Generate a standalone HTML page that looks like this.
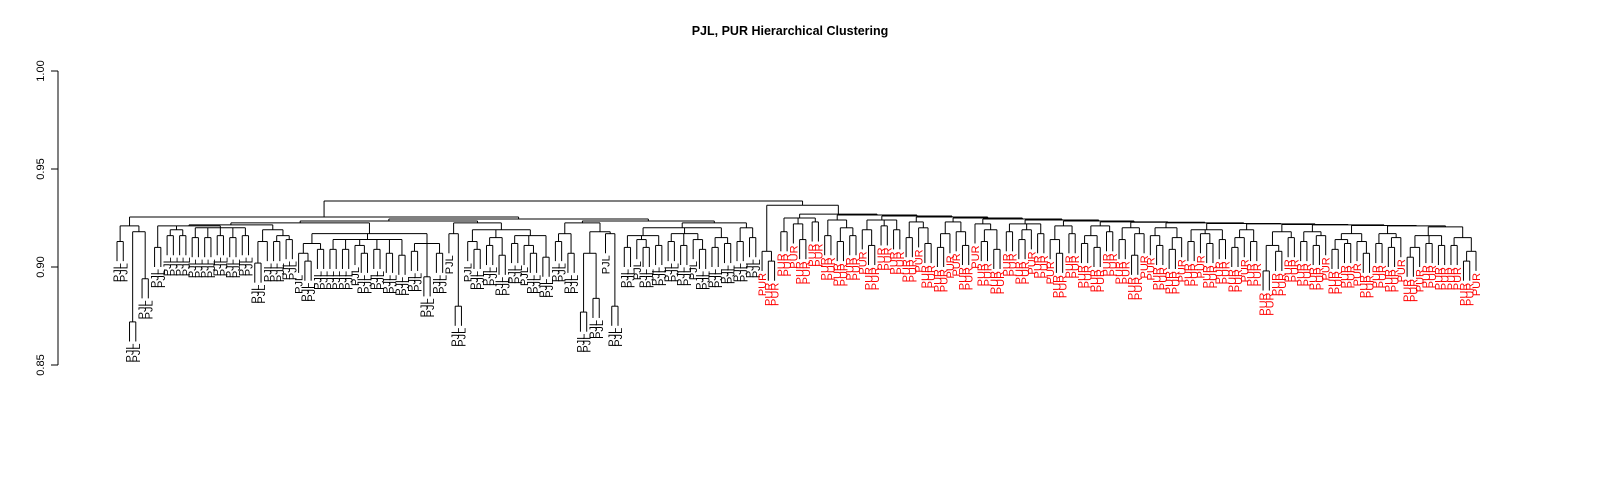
<!DOCTYPE html>
<html><head><meta charset="utf-8"><style>
body{margin:0;background:#fff}
svg{display:block;font-family:"Liberation Sans",sans-serif}
</style></head><body>
<svg id="chart" width="1600" height="480" xmlns="http://www.w3.org/2000/svg">
<text x="790" y="35" text-anchor="middle" font-size="12.5" font-weight="bold">PJL, PUR Hierarchical Clustering</text>
<g id="axis"></g>
<g id="tree"></g>
</svg>
<script>
const yTicks = [0.85, 0.90, 0.95, 1.00];
const yTickLabels = ["0.85", "0.90", "0.95", "1.00"];
const hang = 0.010;
const pjlFirst = [0.921,[0.913,'J','J'],[0.918,[0.872,'J','J'],[0.894,'J','J']]];
const pjlGroups = [
 [0.921,[0.910,'J','J'],[0.919,[0.916,'J','J'],[0.916,'J','J']],[0.920,[0.915,'J','J'],[0.915,'J','J'],[0.916,'J','J'],[0.915,'J','J'],[0.916,'J','J']]],
 [0.919,[0.913,[0.902,'J','J'],'J'],[0.916,[0.913,'J','J'],[0.914,'J','J']]],
 [0.917,[0.912,[0.907,'J',[0.903,'J','J']],[0.909,'J','J']],[0.914,[0.909,'J','J'],[0.909,'J','J'],[0.911,'J',[0.907,'J','J']],[0.909,'J','J'],[0.907,'J','J'],[0.906,'J','J']],[0.912,[0.908,'J','J'],[0.895,'J','J'],[0.907,'J','J']]],
 [0.917,'J',[0.880,'J','J']],
 [0.919,[0.913,'J',[0.909,'J','J']],[0.915,[0.911,'J','J'],[0.906,'J','J']],[0.916,[0.912,'J','J'],[0.911,'J',[0.907,'J','J']],[0.905,'J','J']]],
 [0.917,[0.913,'J','J'],[0.907,'J','J']],
 [0.918,[0.907,[0.877,'J','J'],[0.884,'J','J']],[0.917,'J',[0.880,'J','J']]],
 [0.920,[0.916,[0.910,'J','J'],[0.914,'J',[0.910,'J','J']],[0.911,'J','J']],[0.917,[0.913,'J','J'],[0.911,'J','J'],[0.914,'J',[0.909,'J','J']]],[0.915,[0.910,'J','J'],[0.912,'J','J']]],
 [0.920,[0.913,'J','J'],[0.915,'J','J']]
];
const pjlTop = 0.9255;
const pjlLevels = [0.9245,0.9235,0.9225,0.9215];
const purSmall = [0.908,'R',[0.903,'R','R']];
const purGroups = [
 [0.925,[0.918,'R','R'],[0.922,'R',[0.914,'R','R']],[0.923,'R','R']],
 [0.924,[0.916,'R','R'],[0.920,[0.913,'R','R'],[0.916,'R','R']]],
 [0.924,[0.919,'R',[0.911,'R','R']],[0.921,'R','R'],[0.919,'R','R']],
 [0.923,[0.915,'R','R'],[0.920,'R',[0.912,'R','R']]],
 [0.923,[0.917,[0.910,'R','R'],'R'],[0.918,'R',[0.911,'R','R']]],
 [0.922,'R',[0.919,[0.913,'R','R'],[0.909,'R','R']]],
 [0.922,[0.918,'R','R'],[0.919,[0.914,'R','R'],'R'],[0.917,'R','R']],
 [0.921,[0.914,'R',[0.907,'R','R']],[0.917,'R','R']],
 [0.921,[0.916,[0.912,'R','R'],[0.910,'R','R']],[0.918,'R','R']],
 [0.920,[0.914,'R','R'],[0.917,[0.906,'R','R'],'R']],
 [0.920,[0.916,'R',[0.911,'R','R']],[0.915,[0.909,'R','R'],'R']],
 [0.919,[0.913,'R','R'],[0.917,'R',[0.912,'R','R']],[0.914,'R','R']],
 [0.919,[0.915,[0.910,'R','R'],'R'],[0.913,'R','R']],
 [0.918,[0.911,[0.898,'R','R'],[0.908,'R','R']],[0.915,'R','R']],
 [0.918,[0.913,'R','R'],[0.916,[0.911,'R','R'],'R']],
 [0.917,[0.914,[0.909,'R','R'],[0.912,'R','R']],[0.913,'R',[0.907,'R','R']]],
 [0.917,[0.912,'R','R'],[0.915,[0.910,'R','R'],'R']],
 [0.916,[0.910,[0.905,'R','R'],'R'],[0.912,'R','R'],[0.911,'R','R']],
 [0.915,[0.911,'R','R'],[0.908,[0.903,'R','R'],'R']]
];
const purChain = [0.927,0.9265,0.926,0.9255,0.925,0.9245,0.924,0.9235,0.923,0.9228,0.9225,0.9222,0.922,0.9217,0.9215,0.9212,0.921,0.9205];
const purJoin = 0.9315;
const rootHeight = 0.9337;
const labelText = {J:'PJL', R:'PUR'};
const labelColor = {J:'#000', R:'#ff0000'};

const NS = 'http://www.w3.org/2000/svg';
const yScale = v => 71 + (1 - v) * 1960;
function chain(groups, heights){
  let node = groups[groups.length-1];
  for(let i=groups.length-2;i>=0;i--) node=[heights[i],groups[i],node];
  return node;
}
function balanced(groups, levels, d){
  if(groups.length===1) return groups[0];
  const m=Math.ceil(groups.length/2);
  return [levels[Math.min(d,levels.length-1)], balanced(groups.slice(0,m),levels,d+1), balanced(groups.slice(m),levels,d+1)];
}
const left = [pjlTop, pjlFirst, balanced(pjlGroups, pjlLevels, 0)];
const right = [purJoin, purSmall, chain(purGroups, purChain)];
const root = [rootHeight, left, right];

function countLeaves(n){ return typeof n==='string'?1:n.slice(1).reduce((a,c)=>a+countLeaves(c),0); }
const nLeaves = countLeaves(root);
const x0=117, x1=1476;
const xScale = i => x0 + i*(x1-x0)/(nLeaves-1);
const tree = document.getElementById('tree');
let leafIdx = 0;
function line(xa,ya,xb,yb,name){
  const l=document.createElementNS(NS,'line');
  l.setAttribute('x1',xa);l.setAttribute('y1',ya);l.setAttribute('x2',xb);l.setAttribute('y2',yb);
  l.setAttribute('stroke','#000');l.setAttribute('stroke-width','1');
  
  
  tree.appendChild(l);
}
function layout(n){
  if(typeof n==='string'){ const x=xScale(leafIdx++); return {x, h:null, lab:n}; }
  const h=n[0];
  const kids=n.slice(1).map(layout);
  kids.forEach(k=>{
    if(k.h===null){
      const yb=yScale(h-hang);
      line(k.x,yScale(h),k.x,yb,'leaf-branch');
      const t=document.createElementNS(NS,'text');
      t.setAttribute('transform',`translate(${k.x+4},${yb+2}) rotate(-90)`);
      t.setAttribute('text-anchor','end');
      t.setAttribute('font-size','11');
      t.setAttribute('fill',labelColor[k.lab]);
      t.textContent=labelText[k.lab];
      
      
      tree.appendChild(t);
    } else {
      line(k.x,yScale(k.h),k.x,yScale(h),'branch');
    }
  });
  const xa=kids[0].x, xb=kids[kids.length-1].x;
  line(xa,yScale(h),xb,yScale(h),'merge-line');
  return {x:(xa+xb)/2, h};
}
layout(root);

const axis=document.getElementById('axis');
const al=document.createElementNS(NS,'line');
al.setAttribute('x1',58);al.setAttribute('x2',58);
al.setAttribute('y1',yScale(yTicks[yTicks.length-1]));al.setAttribute('y2',yScale(yTicks[0]));
al.setAttribute('stroke','#000');


axis.appendChild(al);
yTicks.forEach((v,i)=>{
  const y=yScale(v);
  const tk=document.createElementNS(NS,'line');
  tk.setAttribute('x1',51);tk.setAttribute('x2',58);tk.setAttribute('y1',y);tk.setAttribute('y2',y);
  tk.setAttribute('stroke','#000');
  
  
  axis.appendChild(tk);
  const t=document.createElementNS(NS,'text');
  t.setAttribute('transform',`translate(44,${y}) rotate(-90)`);
  t.setAttribute('text-anchor','middle');
  t.setAttribute('font-size','11');
  t.textContent=yTickLabels[i];
  
  
  axis.appendChild(t);
});
</script>
</body></html>
